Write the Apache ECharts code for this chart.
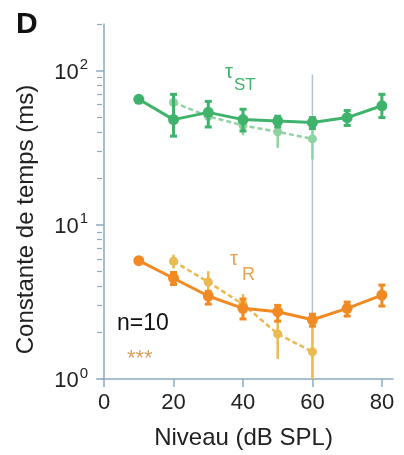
<!DOCTYPE html>
<html>
<head>
<meta charset="utf-8">
<script src="https://cdn.jsdelivr.net/npm/echarts@6.0.0/dist/echarts.min.js"></script>
<style>
  html, body { margin: 0; padding: 0; background: #fff; }
  #chart { width: 404px; height: 455px; }
</style>
</head>
<body>
<div id="chart"></div>
<script>
// sound levels (dB SPL)
const levels = [10, 20, 30, 40, 50, 60, 70, 80];
const levelsDashed = [20, 30, 40, 50, 60];

// tau ST (ms), solid
const tauST = [65, 48, 53.5, 48, 47, 46, 49.5, 59];
const tauSTLo = [null, 37.5, 43, 40.5, 43, 42, 44, 49.5];
const tauSTHi = [null, 70, 63, 56, 50.5, 49.5, 55, 70];
// tau ST (ms), dashed
const tauSTd = [62, 50.5, 44, 40, 36];
const tauSTdLo = [56, 45, 38, 31.5, 26.5];
const tauSTdHi = [70, 56, 50, 43, 46];

// tau R (ms), solid
const tauR = [5.85, 4.5, 3.45, 2.87, 2.73, 2.42, 2.87, 3.5];
const tauRLo = [null, 4.1, 3.06, 2.45, 2.37, 2.2, 2.56, 2.97];
const tauRHi = [null, 4.9, 3.7, 3.3, 3.0, 2.63, 3.15, 4.06];
// tau R (ms), dashed
const tauRd = [5.8, 4.25, 3.05, 1.96, 1.5];
const tauRdLo = [5.2, 3.66, 2.45, 1.35, 1.0];
const tauRdHi = [6.4, 5.0, 3.55, 2.98, 2.44];

// reference level line
const refLine = [[60, 1], [60, 94]];

const xTicks = [0, 20, 40, 60, 80];
const yMajor = [1, 10, 100];
const yMinor = [2, 3, 4, 5, 6, 7, 8, 9, 20, 30, 40, 50, 60, 70, 80, 90, 200];

const GREEN = '#3fb36c';
const GREEN_L = '#8fd3a4';
const ORANGE = '#f28a24';
const ORANGE_L = '#eab94f';
const AXIS = '#8aabbf';

function pts(xs, ys) { return xs.map((x, i) => [x, ys[i]]); }
function bars(xs, lo, hi) {
  return xs.map((x, i) => [x, lo[i], hi[i]]).filter(d => d[1] != null);
}

function errRender(color, lw, cap) {
  return function (params, api) {
    const x = api.value(0);
    const p1 = api.coord([x, api.value(1)]);
    const p2 = api.coord([x, api.value(2)]);
    const style = { stroke: color, lineWidth: lw };
    const children = [{ type: 'line', shape: { x1: p1[0], y1: p1[1], x2: p2[0], y2: p2[1] }, style }];
    if (cap) {
      children.push({ type: 'line', shape: { x1: p1[0] - cap, y1: p1[1], x2: p1[0] + cap, y2: p1[1] }, style });
      children.push({ type: 'line', shape: { x1: p2[0] - cap, y1: p2[1], x2: p2[0] + cap, y2: p2[1] }, style });
    }
    return { type: 'group', children };
  };
}

function errSeries(data, color, lw, cap, z) {
  return {
    type: 'custom', yAxisIndex: 0, z, silent: true,
    renderItem: errRender(color, lw, cap),
    encode: { x: 0, y: [1, 2] },
    data
  };
}

function lineSeries(data, color, width, dashed, size, z) {
  return {
    type: 'line', yAxisIndex: 0, z, silent: true,
    data,
    symbol: 'circle', symbolSize: size,
    itemStyle: { color },
    lineStyle: { color, width, type: dashed ? [5, 3] : 'solid' },
    animation: false
  };
}

const chart = echarts.init(document.getElementById('chart'));

const supLabel = function (v) {
  return '{b|10}{s|' + Math.round(Math.log10(v)) + '}';
};

chart.setOption({
  animation: false,
  grid: { left: 102, right: 11, top: 24, bottom: 74 },
  xAxis: {
    type: 'value', min: -0.6, max: 83.2,
    name: 'Niveau (dB SPL)', nameLocation: 'middle', nameGap: 47,
    nameTextStyle: { fontFamily: 'Liberation Sans', fontSize: 24, color: '#222', padding: [0, 8, 0, 0] },
    axisLine: { lineStyle: { color: AXIS, width: 1.5 } },
    axisTick: { customValues: xTicks, length: 8, lineStyle: { color: AXIS, width: 1.5 } },
    axisLabel: { customValues: xTicks, fontFamily: 'Liberation Sans', fontSize: 22, color: '#222', margin: 13 },
    splitLine: { show: false }
  },
  yAxis: [{
    type: 'log', logBase: 10, min: 1, max: 200,
    name: 'Constante de temps (ms)', nameLocation: 'middle', nameGap: 64,
    nameTextStyle: { fontFamily: 'Liberation Sans', fontSize: 24, color: '#222', padding: [0, 36, 0, 0] },
    axisLine: { show: true, lineStyle: { color: AXIS, width: 1.5 } },
    axisTick: { customValues: yMajor, length: 8, lineStyle: { color: AXIS, width: 1.5 } },
    axisLabel: {
      customValues: yMajor, margin: 14, formatter: supLabel,
      rich: {
        b: { fontFamily: 'Liberation Sans', fontSize: 22, color: '#222', lineHeight: 26, verticalAlign: 'bottom' },
        s: { fontFamily: 'Liberation Sans', fontSize: 15, color: '#222', lineHeight: 26, verticalAlign: 'top', padding: [0, 0, 0, 1] }
      }
    },
    splitLine: { show: false }
  }, {
    type: 'log', logBase: 10, min: 1, max: 200, position: 'left',
    axisLine: { show: false },
    axisTick: { show: true, customValues: yMinor, length: 5, lineStyle: { color: AXIS, width: 1.2 } },
    axisLabel: { show: false },
    splitLine: { show: false }
  }],
  graphic: [
    { type: 'text', left: 16, top: 10, style: { text: 'D', font: 'bold 30px "Liberation Sans"', fill: '#111' } },
    { type: 'text', left: 225, top: 62, style: {
      text: '{t|τ}{s|ST}',
      rich: {
        t: { font: '20px "Liberation Sans"', fill: GREEN, lineHeight: 26, verticalAlign: 'top' },
        s: { font: '17px "Liberation Sans"', fill: GREEN, lineHeight: 32, verticalAlign: 'bottom', padding: [0, 0, 0, 1] }
      } } },
    { type: 'text', left: 230, top: 249, style: {
      text: '{t|τ}{s|R}',
      rich: {
        t: { font: '20px "Liberation Sans"', fill: '#e9a250', lineHeight: 26, verticalAlign: 'top' },
        s: { font: '18px "Liberation Sans"', fill: '#e9a250', lineHeight: 35, verticalAlign: 'bottom', padding: [0, 0, 0, 4] }
      } } },
    { type: 'text', left: 117, top: 312, style: { text: 'n=10', font: '23px "Liberation Sans"', fill: '#111' } },
    { type: 'text', left: 127, top: 348, style: { text: '***', font: '22px "Liberation Sans"', fill: '#d9a062' } }
  ],
  series: [
    {
      type: 'line', yAxisIndex: 0, z: 1, silent: true, data: refLine,
      symbol: 'none', lineStyle: { color: '#b7c3cc', width: 1.5 }
    },
    errSeries(bars(levelsDashed, tauSTdLo, tauSTdHi), GREEN_L, 2.5, 0, 2),
    lineSeries(pts(levelsDashed, tauSTd), GREEN_L, 2.5, true, 9, 3),
    errSeries(bars(levels, tauSTLo, tauSTHi), GREEN, 3, 3.5, 4),
    lineSeries(pts(levels, tauST), GREEN, 3, false, 11, 5),
    errSeries(bars(levelsDashed, tauRdLo, tauRdHi), ORANGE_L, 2.5, 0, 2),
    lineSeries(pts(levelsDashed, tauRd), ORANGE_L, 2.5, true, 9, 3),
    errSeries(bars(levels, tauRLo, tauRHi), ORANGE, 3, 3.5, 4),
    lineSeries(pts(levels, tauR), ORANGE, 3, false, 11, 5)
  ]
});
</script>
</body>
</html>
